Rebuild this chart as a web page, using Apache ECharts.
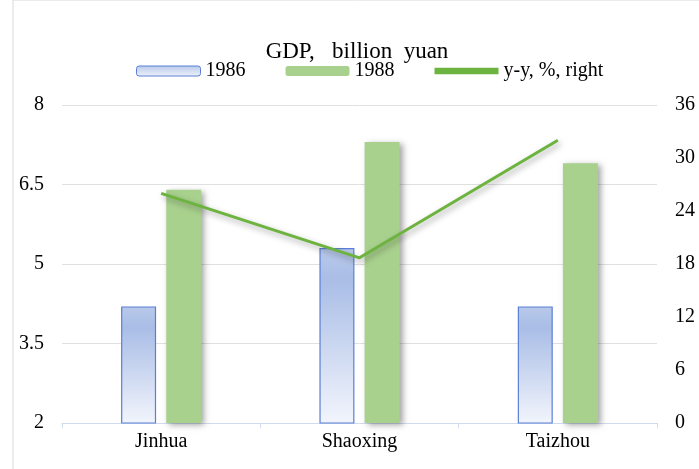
<!DOCTYPE html>
<html>
<head>
<meta charset="utf-8">
<script src="https://cdn.jsdelivr.net/npm/echarts@6/dist/echarts.min.js"></script>
<style>html,body{margin:0;padding:0;background:#fff}#c{width:699px;height:469px}</style>
</head>
<body>
<div id="c"></div>
<script>
const categories = ['Jinhua', 'Shaoxing', 'Taizhou'];
const gdp1986 = [4.2, 5.3, 4.2];
const gdp1988 = [6.4, 7.3, 6.9];
const yoy = [26, 18.7, 32];
const leftTicks = [2, 8, 1.5];
const rightTicks = [0, 36, 6];

const font = '"Liberation Serif", "Times New Roman", serif';
const chart = echarts.init(document.getElementById('c'));
chart.setOption({
  animation: false,
  textStyle: { fontFamily: font },
  graphic: [{ type: 'rect', shape: { x: 13, y: 0, width: 700, height: 480 }, style: { fill: 'none', stroke: '#d9d9d9', lineWidth: 1 } }],
  title: {
    text: 'GDP,   billion  yuan', left: 352, top: 35, textAlign: 'center',
    textStyle: { fontFamily: font, fontSize: 23, fontWeight: 'normal', color: '#000' }
  },
  legend: {
    left: 131, top: 56, itemGap: 40, itemWidth: 64, itemHeight: 10,
    textStyle: { fontFamily: font, fontSize: 20, color: '#000' },
    data: [
      { name: '1986', itemStyle: { color: new echarts.graphic.LinearGradient(0, 0, 0, 1, [{ offset: 0, color: '#b8c9ea' }, { offset: 1, color: '#eef2fb' }]), borderColor: '#5b7fd6', borderWidth: 1 } },
      { name: '1988', itemStyle: { color: '#a9d18e' } },
      { name: 'y-y, %, right', icon: 'path://M0,0 L10,0 L10,1 L0,1 Z', itemStyle: { color: '#6db33f' } }
    ]
  },
  grid: { left: 62, right: 42, top: 105, bottom: 46 },
  xAxis: {
    type: 'category', data: categories,
    axisLine: { lineStyle: { color: '#d0dbf0' } },
    axisTick: { show: true, lineStyle: { color: '#d0dbf0' } },
    axisLabel: { fontFamily: font, fontSize: 20, color: '#000', margin: 9 }
  },
  yAxis: [
    {
      type: 'value', min: leftTicks[0], max: leftTicks[1], interval: leftTicks[2],
      axisLine: { show: false }, axisTick: { show: false },
      axisLabel: { fontFamily: font, fontSize: 20, color: '#000', margin: 18 },
      splitLine: { lineStyle: { color: '#e0e0e0' } }
    },
    {
      type: 'value', min: rightTicks[0], max: rightTicks[1], interval: rightTicks[2],
      axisLine: { show: false }, axisTick: { show: false },
      axisLabel: { fontFamily: font, fontSize: 20, color: '#000', margin: 18 },
      splitLine: { show: false }
    }
  ],
  series: [
    {
      name: '1986', type: 'bar', data: gdp1986, barWidth: 35, barGap: '29%',
      itemStyle: {
        borderColor: '#5b7fd6', borderWidth: 1.2,
        color: new echarts.graphic.LinearGradient(0, 0, 0, 1, [
          { offset: 0, color: '#b8c9ea' },
          { offset: 0.18, color: '#a9bde6' },
          { offset: 1, color: '#f2f5fc' }
        ])
      }
    },
    {
      name: '1988', type: 'bar', data: gdp1988, barWidth: 35,
      itemStyle: { color: '#a9d18e', shadowBlur: 6, shadowOffsetX: 3, shadowOffsetY: 2, shadowColor: 'rgba(0,0,0,0.35)' }
    },
    {
      name: 'y-y, %, right', type: 'line', yAxisIndex: 1, data: yoy,
      symbol: 'none', z: 5,
      lineStyle: { color: '#6db33f', width: 3, shadowBlur: 6, shadowOffsetX: 2, shadowOffsetY: 3, shadowColor: 'rgba(0,0,0,0.35)' },
      itemStyle: { color: '#6db33f' }
    }
  ]
});
</script>
</body>
</html>
